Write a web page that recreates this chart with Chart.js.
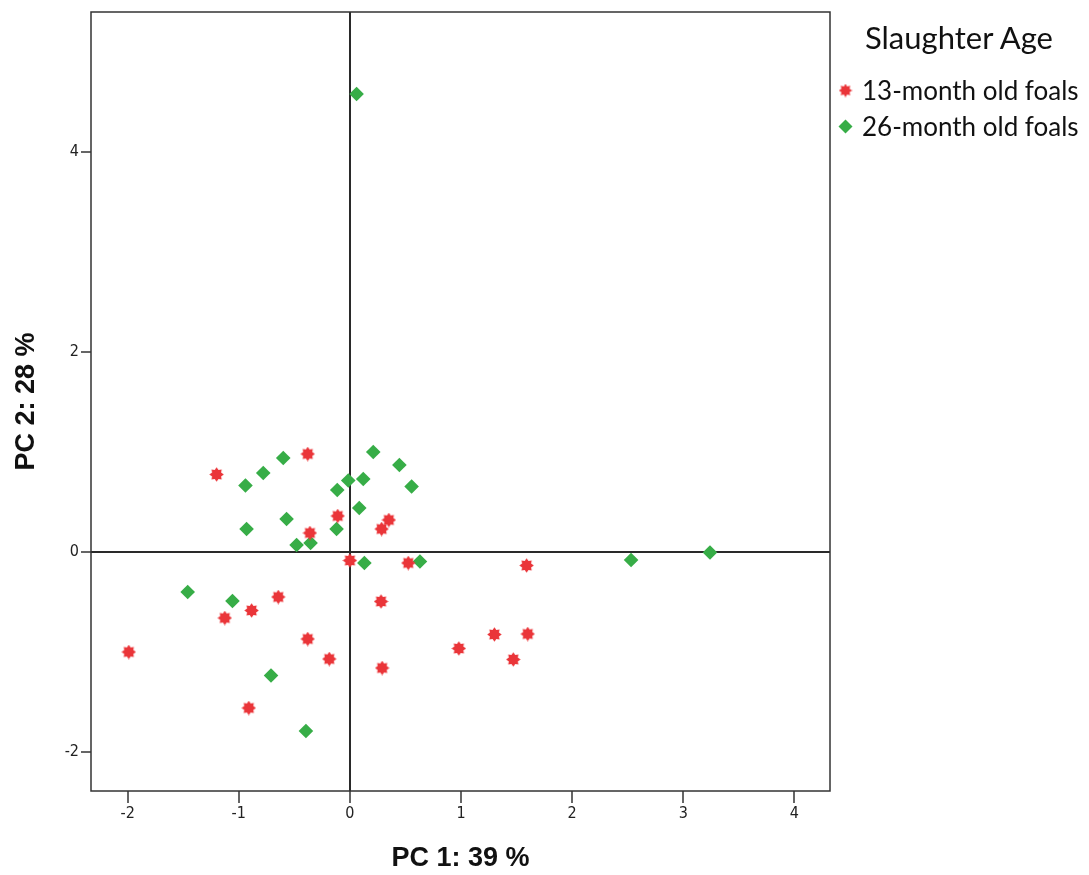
<!DOCTYPE html>
<html>
<head>
<meta charset="utf-8">
<script src="https://cdn.jsdelivr.net/npm/chart.js@4/dist/chart.umd.min.js"></script>
<style>
    body { margin: 0; background: #fff; }
    #wrap { position: relative; width: 1089px; height: 875px; }
    #legend { position: absolute; left: 837px; top: 19px; font-family: Lato, 'Open Sans', sans-serif; color: #111; white-space: nowrap; }
    #legend .title { font-size: 31px; line-height: 37px; margin-left: 28px; margin-bottom: 16px; }
    #legend .item { font-size: 26px; display: flex; align-items: center; height: 36px; }
    #legend canvas { margin-right: 8px; }
</style>
</head>
<body>
<div id="wrap">
    <canvas id="pcaChart" width="1089" height="875"></canvas>
    <div id="legend">
        <div class="title">Slaughter Age</div>
        <div class="item"><canvas id="leg13" width="17" height="17"></canvas>13-month old foals</div>
        <div class="item"><canvas id="leg26" width="17" height="17"></canvas>26-month old foals</div>
    </div>
</div>
<script>
// PCA scores
const foals13x = [-0.38, -1.20, -0.11, -0.36, 0.35, 0.285, 0.0, 0.525, -0.645, 0.28, -0.885, -1.126,
    -1.99, -0.38, -0.186, 0.29, -0.91, 0.98, 1.59, 1.30, 1.60, 1.47];
const foals13y = [0.98, 0.775, 0.36, 0.19, 0.32, 0.23, -0.085, -0.11, -0.45, -0.495, -0.585, -0.66,
    -1.0, -0.87, -1.07, -1.16, -1.56, -0.965, -0.135, -0.825, -0.82, -1.075];

const foals26x = [0.06, -0.60, -0.78, -0.94, 0.21, 0.445, 0.555, -0.015, 0.12, -0.114, 0.084, -0.57,
    -0.93, -0.12, -0.48, -0.354, 0.13, 0.63, -1.46, -1.057, -0.71, -0.396, 2.53, 3.24];
const foals26y = [4.58, 0.94, 0.79, 0.665, 1.0, 0.87, 0.655, 0.715, 0.73, 0.62, 0.44, 0.33,
    0.23, 0.23, 0.07, 0.09, -0.11, -0.095, -0.40, -0.49, -1.235, -1.79, -0.08, -0.005];

const xTicks = [-2, -1, 0, 1, 2, 3, 4];
const yTicks = [-2, 0, 2, 4];

const RED = '#ea3539';
const GREEN = '#37ad47';

// red burst marker (SPSS style)
function makeBurst(size, color) {
    const c = document.createElement('canvas');
    c.width = size; c.height = size;
    const g = c.getContext('2d');
    const cx = size / 2, r1 = size / 2 - 0.3, r0 = size / 2 - 2.6;
    g.fillStyle = color;
    g.beginPath();
    for (let i = 0; i < 16; i++) {
        const a = i * Math.PI / 8 - Math.PI / 2;
        const r = i % 2 === 0 ? r1 : r0;
        g.lineTo(cx + r * Math.cos(a), cx + r * Math.sin(a));
    }
    g.closePath();
    g.fill();
    return c;
}

function drawBurstInto(id) {
    const g = document.getElementById(id).getContext('2d');
    g.drawImage(makeBurst(14, RED), 1.5, 1.5);
}
function drawDiamondInto(id) {
    const g = document.getElementById(id).getContext('2d');
    g.fillStyle = GREEN;
    g.beginPath();
    g.moveTo(8.5, 1.5); g.lineTo(15.5, 8.5); g.lineTo(8.5, 15.5); g.lineTo(1.5, 8.5);
    g.closePath();
    g.fill();
}
drawBurstInto('leg13');
drawDiamondInto('leg26');

const toPoints = (xs, ys) => xs.map((x, i) => ({ x: x, y: ys[i] }));

const frame = {
    id: 'frame',
    afterDatasetsDraw(chart) {
        const a = chart.chartArea, ctx = chart.ctx;
        ctx.save();
        ctx.strokeStyle = '#333';
        ctx.lineWidth = 1.5;
        ctx.strokeRect(a.left, a.top, a.right - a.left, a.bottom - a.top);
        ctx.restore();
    }
};

const tickFont = { family: "'Liberation Sans Narrow', 'DejaVu Sans Condensed', sans-serif", size: 16 };
const titleFont = { family: "'Liberation Sans', Arial, sans-serif", size: 27, weight: 'bold' };
const zeroLine = ctx => (ctx.tick && ctx.tick.value === 0) ? '#2a2a2a' : 'rgba(0,0,0,0)';

new Chart(document.getElementById('pcaChart'), {
    type: 'scatter',
    data: {
        datasets: [{
            label: '13-month old foals',
            data: toPoints(foals13x, foals13y),
            pointStyle: makeBurst(15, RED),
            backgroundColor: RED,
            borderColor: RED
        }, {
            label: '26-month old foals',
            data: toPoints(foals26x, foals26y),
            pointStyle: 'rectRot',
            pointRadius: 7.3,
            borderWidth: 0,
            backgroundColor: GREEN,
            borderColor: GREEN
        }]
    },
    options: {
        responsive: false,
        animation: false,
        layout: { padding: { top: 12, right: 259, left: 0, bottom: 0 } },
        plugins: { legend: { display: false }, tooltip: { enabled: false } },
        scales: {
            x: {
                type: 'linear',
                min: -2.33, max: 4.32,
                afterBuildTicks: s => { s.ticks = xTicks.map(v => ({ value: v })); },
                afterFit: s => { s.height = 84; },
                grid: { color: zeroLine, lineWidth: 2, tickColor: '#333', tickLength: 12, tickWidth: 1.5 },
                border: { display: false },
                ticks: { font: tickFont, color: '#222', padding: 1, maxRotation: 0 },
                title: { display: true, text: 'PC 1: 39 %', font: titleFont, color: '#111', padding: { top: 0, bottom: 0 } }
            },
            y: {
                type: 'linear',
                min: -2.39, max: 5.4,
                afterBuildTicks: s => { s.ticks = yTicks.map(v => ({ value: v })); },
                afterFit: s => { s.width = 91; },
                grid: { color: zeroLine, lineWidth: 2, tickColor: '#333', tickLength: 10, tickWidth: 1.5 },
                border: { display: false },
                ticks: { font: tickFont, color: '#222', padding: 2 },
                title: { display: true, text: 'PC 2: 28 %', font: titleFont, color: '#111', padding: { top: 10, bottom: 0 } }
            }
        }
    },
    plugins: [frame]
});
</script>
</body>
</html>
